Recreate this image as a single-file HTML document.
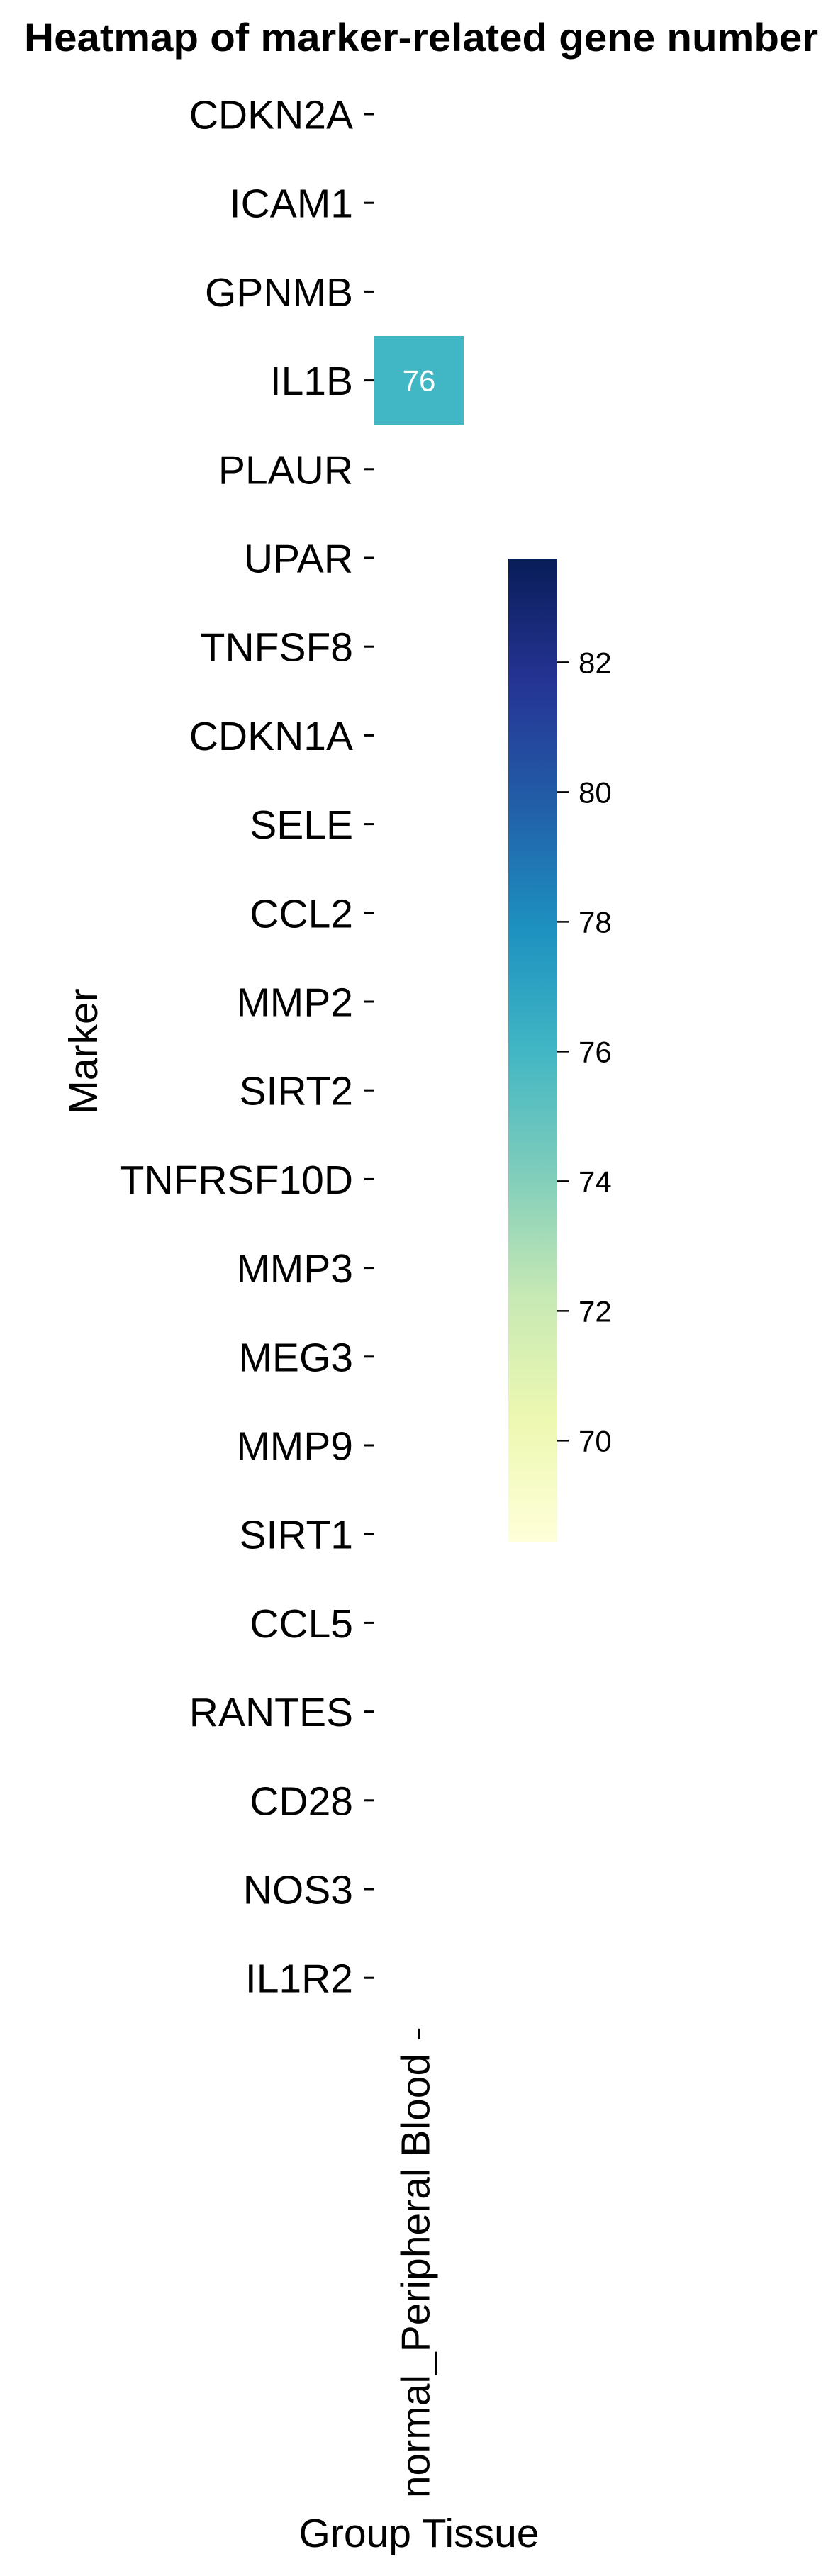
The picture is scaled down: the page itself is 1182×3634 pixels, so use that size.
<!DOCTYPE html>
<html><head><meta charset="utf-8"><style>
html,body{margin:0;padding:0;background:#fff;}
svg{display:block;font-family:"Liberation Sans",Arial,sans-serif;}
</style></head><body>
<svg id="chart" width="1182" height="3634" viewBox="0 0 1182 3634" xmlns="http://www.w3.org/2000/svg">
<defs>
<linearGradient id="cbgrad" x1="0" y1="1" x2="0" y2="0">
<stop offset="0" stop-color="#ffffd9"/><stop offset="0.125" stop-color="#edf8b1"/><stop offset="0.25" stop-color="#c7e9b4"/><stop offset="0.375" stop-color="#7fcdbb"/><stop offset="0.5" stop-color="#41b6c4"/><stop offset="0.625" stop-color="#1d91c0"/><stop offset="0.75" stop-color="#225ea8"/><stop offset="0.875" stop-color="#253494"/><stop offset="1" stop-color="#081d58"/>
</linearGradient>
</defs>
<text x="594" y="72" text-anchor="middle" font-size="56" font-weight="bold" textLength="1120" lengthAdjust="spacingAndGlyphs">Heatmap of marker-related gene number</text>
<g id="rows"></g>
<g id="cells"></g>
<g id="xaxis"></g>
<text transform="translate(137,1483) rotate(-90)" text-anchor="middle" font-size="57">Marker</text>
<text x="591" y="3593" text-anchor="middle" font-size="57">Group Tissue</text>
<rect x="717" y="788" width="69" height="1388" fill="url(#cbgrad)"/>
<g id="cbticks"></g>
</svg>
<script>
const markers = ["CDKN2A","ICAM1","GPNMB","IL1B","PLAUR","UPAR","TNFSF8","CDKN1A","SELE","CCL2","MMP2","SIRT2","TNFRSF10D","MMP3","MEG3","MMP9","SIRT1","CCL5","RANTES","CD28","NOS3","IL1R2"];
const groups = ["normal_Peripheral Blood"];
const cellMarkers = ["IL1B"];
const cellGroups = ["normal_Peripheral Blood"];
const cellValues = [76];
const cbTicks = [70,72,74,76,78,80,82];
const cbMin = 68.43, cbMax = 83.6;

const NS = "http://www.w3.org/2000/svg";
const top0 = 98.4, rowH = 125.2, left0 = 528, colW = 126;
const yPos = m => top0 + markers.indexOf(m) * rowH;
const xPos = g => left0 + groups.indexOf(g) * colW;
const cbTop = 788, cbBot = 2176;
const cbY = v => cbBot - (v - cbMin) / (cbMax - cbMin) * (cbBot - cbTop);
const stops = ["#ffffd9","#edf8b1","#c7e9b4","#7fcdbb","#41b6c4","#1d91c0","#225ea8","#253494","#081d58"];
function hex(h){return [1,3,5].map(i=>parseInt(h.substr(i,2),16));}
function color(v){
  let t = Math.max(0, Math.min(1, (v - cbMin) / (cbMax - cbMin))) * (stops.length - 1);
  let i = Math.min(Math.floor(t), stops.length - 2), f = t - i;
  const a = hex(stops[i]), b = hex(stops[i+1]);
  return "rgb(" + a.map((c,k)=>Math.round(c + (b[k]-c)*f)).join(",") + ")";
}
function mk(tag, attrs, parent, text){
  const el = document.createElementNS(NS, tag);
  for (const k in attrs) el.setAttribute(k, attrs[k]);
  if (text !== undefined) el.textContent = text;
  parent.appendChild(el);
  return el;
}
const rowsG = document.getElementById("rows");
markers.forEach(m => {
  const cy = yPos(m) + rowH / 2;
  const t = mk("text", {x: 498, y: cy + 20.5, "text-anchor": "end", "font-size": 57}, rowsG, m);
  
  
  const l = mk("line", {x1: 514, x2: 528, y1: cy, y2: cy, stroke: "#000", "stroke-width": 3}, rowsG);
  
  
});
const xG = document.getElementById("xaxis");
groups.forEach(g => {
  const cx = xPos(g) + colW / 2 + 0.5;
  const l = mk("line", {x1: cx, x2: cx, y1: top0 + markers.length * rowH + 9, y2: top0 + markers.length * rowH + 24, stroke: "#000", "stroke-width": 3}, xG);
  
  
  const t = mk("text", {transform: "translate(" + (cx + 14) + "," + (top0 + markers.length * rowH + 44) + ") rotate(-90)", "text-anchor": "end", "font-size": 57}, xG, g);
  
  
});
const cG = document.getElementById("cells");
cellValues.forEach((v, i) => {
  const x = xPos(cellGroups[i]), y = yPos(cellMarkers[i]);
  const r = mk("rect", {x: x, y: y, width: colW, height: rowH, fill: color(v)}, cG);
  
  
  const t = mk("text", {x: x + colW / 2, y: y + rowH / 2 + 15, "text-anchor": "middle", "font-size": 42, fill: "#fff"}, cG, String(v));
  
  
});
const cbG = document.getElementById("cbticks");
cbTicks.forEach(v => {
  const y = cbY(v);
  const l = mk("line", {x1: 786, x2: 802, y1: y, y2: y, stroke: "#000", "stroke-width": 2.5}, cbG);
  
  
  const t = mk("text", {x: 816, y: y + 15, "font-size": 42}, cbG, String(v));
  
  
});
</script>
</body></html>
